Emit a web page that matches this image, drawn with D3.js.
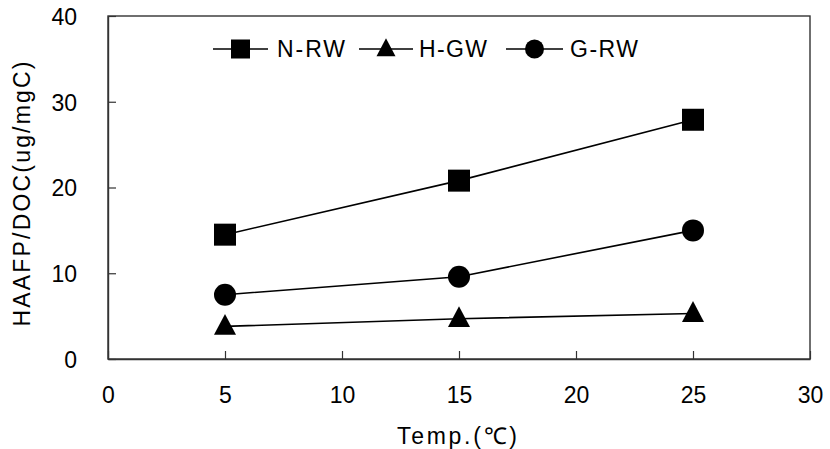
<!DOCTYPE html>
<html>
<head>
<meta charset="utf-8">
<script src="https://cdn.jsdelivr.net/npm/d3@7"></script>
<style>
  html, body { margin: 0; padding: 0; background: #fff; }
  svg text { font-family: "Liberation Sans", Arial, sans-serif; fill: #000; }
</style>
</head>
<body>
<svg id="chart" width="830" height="449"></svg>
<script>
// Temperature (°C) on the x axis
const temps = [5, 15, 25];
// HAAFP/DOC (ug/mgC) for each water source
const nrw = [14.5, 20.8, 27.9];
const hgw = [3.8, 4.7, 5.3];
const grw = [7.5, 9.6, 15.0];
const xTicks = [0, 5, 10, 15, 20, 25, 30];
const yTicks = [0, 10, 20, 30, 40];

const series = [
  { name: "N-RW", values: nrw, shape: "square" },
  { name: "H-GW", values: hgw, shape: "triangle" },
  { name: "G-RW", values: grw, shape: "circle" }
];

const svg = d3.select("#chart");
const x = d3.scaleLinear().domain([0, 30]).range([108, 810]);
const y = d3.scaleLinear().domain([0, 40]).range([359, 16]);

// frame of the plot area
svg.append("rect")
  .attr("x", x(0)).attr("y", y(40))
  .attr("width", x(30) - x(0)).attr("height", y(0) - y(40))
  .attr("fill", "none").attr("stroke", "#333").attr("stroke-width", 1.4);

// axes with inward ticks
const xAxis = svg.append("g").attr("transform", `translate(0,${y(0)})`)
  .call(d3.axisBottom(x).tickValues(xTicks).tickSizeInner(-8).tickSizeOuter(0).tickPadding(28));
const yAxis = svg.append("g").attr("transform", `translate(${x(0)},0)`)
  .call(d3.axisLeft(y).tickValues(yTicks).tickSizeInner(-8).tickSizeOuter(0).tickPadding(31));
[xAxis, yAxis].forEach(g => {
  g.select(".domain").attr("stroke", "#333").attr("stroke-width", 1.4);
  g.selectAll(".tick line").attr("stroke", "#333").attr("stroke-width", 1.2);
  g.selectAll(".tick text").attr("font-size", 23).attr("font-family", "Liberation Sans, Arial, sans-serif").attr("fill", "#000");
});
xAxis.selectAll(".tick text").attr("dy", "0.71em").attr("y", 28);
yAxis.selectAll(".tick text").attr("dy", "0.36em");

// axis titles
svg.append("text")
  .attr("x", 457).attr("y", 444)
  .attr("text-anchor", "middle")
  .attr("font-size", 23)
  .attr("textLength", 120).attr("lengthAdjust", "spacing")
  .text("Temp.(℃)");
svg.append("text")
  .attr("transform", "translate(30,194) rotate(-90)")
  .attr("text-anchor", "middle")
  .attr("font-size", 23)
  .attr("textLength", 265).attr("lengthAdjust", "spacing")
  .text("HAAFP/DOC(ug/mgC)");

function drawMarker(g, shape, cx, cy, s) {
  if (shape === "square") {
    g.append("rect").attr("x", cx - s / 2).attr("y", cy - s / 2)
      .attr("width", s).attr("height", s).attr("fill", "#000");
  } else if (shape === "circle") {
    g.append("circle").attr("cx", cx).attr("cy", cy).attr("r", s / 2).attr("fill", "#000");
  } else {
    const h = s * 0.95;
    g.append("path")
      .attr("d", `M${cx},${cy - h * 0.6}L${cx + s / 2},${cy + h * 0.4}L${cx - s / 2},${cy + h * 0.4}Z`)
      .attr("fill", "#000");
  }
}

const line = d3.line().x(d => x(d[0])).y(d => y(d[1]));
series.forEach(s => {
  const pts = temps.map((t, i) => [t, s.values[i]]);
  svg.append("path").datum(pts).attr("d", line)
    .attr("fill", "none").attr("stroke", "#000").attr("stroke-width", 1.6);
  const g = svg.append("g");
  pts.forEach(p => drawMarker(g, s.shape, x(p[0]), y(p[1]), 22));
});

// legend
const legendItems = [
  { x0: 213, x1: 268, tx: 277 },
  { x0: 359, x1: 413, tx: 419 },
  { x0: 506, x1: 563, tx: 570 }
];
const ly = 49;
series.forEach((s, i) => {
  const L = legendItems[i];
  const g = svg.append("g");
  g.append("line").attr("x1", L.x0).attr("x2", L.x1).attr("y1", ly).attr("y2", ly)
    .attr("stroke", "#000").attr("stroke-width", 1.6);
  drawMarker(g, s.shape, (L.x0 + L.x1) / 2, ly, 19);
  g.append("text").attr("x", L.tx).attr("y", ly + 8)
    .attr("font-size", 23)
    .attr("textLength", 68).attr("lengthAdjust", "spacing")
    .text(s.name);
});
</script>
</body>
</html>
